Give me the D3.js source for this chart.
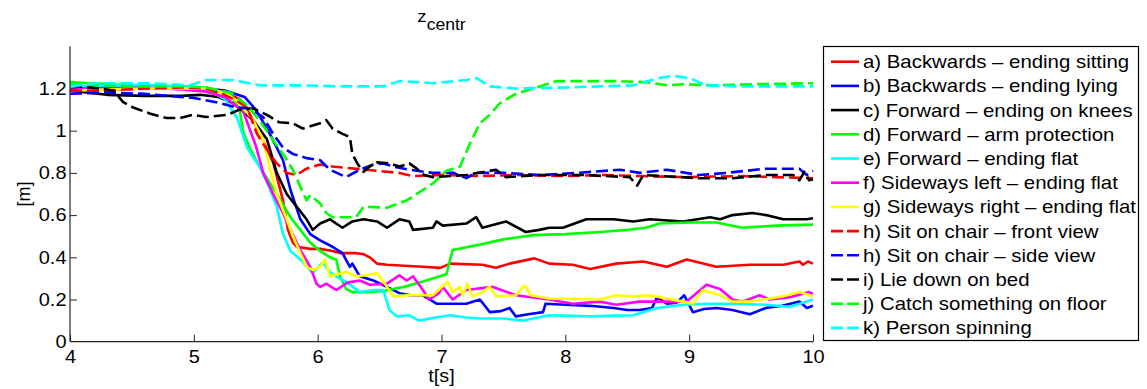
<!DOCTYPE html>
<html>
<head>
<meta charset="utf-8">
<script src="https://cdn.jsdelivr.net/npm/d3@7"></script>
<style>
  html, body { margin: 0; padding: 0; background: #fff; }
  svg { display: block; font-family: "Liberation Sans", Arial, Helvetica, sans-serif; }
</style>
</head>
<body>
<svg id="chart" width="1147" height="389"></svg>
<script>
// Vertical position of the body centroid z_centr [m] over time t [s], one trace per activity.
const aBackSit = [[4.0,1.19],[4.3,1.195],[4.6,1.2],[4.9,1.2],[5.1,1.195],[5.25,1.18],[5.37,1.15],[5.45,1.08],[5.53,0.99],[5.64,0.85],[5.72,0.67],[5.76,0.53],[5.8,0.47],[5.83,0.45],[5.94,0.44],[6.02,0.44],[6.12,0.43],[6.18,0.42],[6.3,0.42],[6.37,0.415],[6.42,0.40],[6.48,0.37],[6.56,0.365],[6.7,0.36],[6.85,0.355],[6.99,0.35],[7.07,0.37],[7.33,0.365],[7.44,0.35],[7.55,0.37],[7.75,0.395],[7.87,0.37],[8.06,0.365],[8.2,0.345],[8.41,0.37],[8.63,0.38],[8.82,0.355],[8.98,0.39],[9.22,0.355],[9.49,0.365],[9.76,0.365],[9.89,0.38],[9.92,0.365],[9.96,0.38],[10.0,0.37]];
const bBackLie = [[4.0,1.21],[4.3,1.205],[4.6,1.2],[4.9,1.2],[5.1,1.2],[5.25,1.19],[5.41,1.16],[5.5,1.1],[5.6,1.0],[5.67,0.92],[5.72,0.86],[5.78,0.72],[5.86,0.58],[5.94,0.51],[6.02,0.48],[6.12,0.45],[6.2,0.42],[6.26,0.355],[6.28,0.37],[6.34,0.31],[6.45,0.29],[6.56,0.26],[6.66,0.23],[6.75,0.22],[6.85,0.22],[6.96,0.18],[7.1,0.18],[7.2,0.18],[7.31,0.2],[7.39,0.14],[7.48,0.145],[7.55,0.16],[7.6,0.12],[7.7,0.13],[7.82,0.14],[7.84,0.18],[8.0,0.175],[8.2,0.17],[8.39,0.16],[8.5,0.15],[8.6,0.15],[8.7,0.16],[8.74,0.21],[8.82,0.18],[8.9,0.185],[8.96,0.22],[9.03,0.14],[9.12,0.155],[9.22,0.16],[9.35,0.15],[9.49,0.13],[9.62,0.16],[9.75,0.17],[9.89,0.19],[9.95,0.16],[10.0,0.17]];
const cFwdKnees = [[4.0,1.19],[4.3,1.17],[4.6,1.165],[4.9,1.165],[5.05,1.17],[5.2,1.16],[5.32,1.13],[5.48,1.05],[5.59,0.96],[5.67,0.8],[5.75,0.7],[5.83,0.64],[5.91,0.58],[5.96,0.53],[6.02,0.56],[6.1,0.58],[6.2,0.54],[6.28,0.57],[6.37,0.58],[6.48,0.57],[6.56,0.54],[6.66,0.58],[6.74,0.57],[6.77,0.53],[6.93,0.54],[6.96,0.57],[7.01,0.55],[7.2,0.56],[7.28,0.59],[7.33,0.54],[7.52,0.57],[7.68,0.52],[7.79,0.53],[7.87,0.54],[7.98,0.54],[8.17,0.58],[8.39,0.58],[8.55,0.57],[8.68,0.58],[8.95,0.57],[9.17,0.59],[9.25,0.58],[9.35,0.6],[9.51,0.61],[9.62,0.6],[9.76,0.58],[9.95,0.58],[10.0,0.585]];
const dFwdArm = [[4.0,1.23],[4.3,1.22],[4.6,1.215],[4.9,1.21],[5.1,1.205],[5.3,1.17],[5.37,1.1],[5.4,0.99],[5.45,0.92],[5.53,0.83],[5.67,0.70],[5.78,0.59],[5.86,0.53],[5.94,0.47],[6.02,0.43],[6.1,0.40],[6.15,0.39],[6.18,0.31],[6.23,0.25],[6.28,0.235],[6.4,0.235],[6.53,0.24],[6.7,0.26],[6.85,0.285],[7.04,0.32],[7.09,0.435],[7.31,0.46],[7.5,0.485],[7.74,0.505],[8.0,0.51],[8.28,0.52],[8.5,0.53],[8.65,0.54],[8.76,0.56],[9.0,0.565],[9.22,0.565],[9.43,0.54],[9.7,0.55],[10.0,0.555]];
const eFwdFlat = [[4.0,1.21],[4.3,1.215],[4.6,1.215],[4.9,1.21],[5.1,1.2],[5.25,1.15],[5.35,1.06],[5.43,0.92],[5.53,0.83],[5.61,0.73],[5.67,0.64],[5.72,0.51],[5.78,0.43],[5.86,0.39],[5.96,0.325],[6.04,0.375],[6.1,0.33],[6.15,0.31],[6.24,0.28],[6.34,0.235],[6.45,0.245],[6.53,0.245],[6.58,0.15],[6.64,0.12],[6.74,0.125],[6.82,0.10],[6.95,0.115],[7.07,0.125],[7.2,0.115],[7.33,0.11],[7.5,0.11],[7.66,0.10],[7.87,0.125],[8.2,0.12],[8.55,0.125],[8.74,0.16],[8.95,0.175],[9.15,0.18],[9.35,0.18],[9.62,0.175],[9.81,0.165],[10.0,0.2]];
const fSideLeft = [[4.0,1.2],[4.3,1.2],[4.6,1.205],[4.9,1.195],[5.1,1.185],[5.25,1.16],[5.4,1.09],[5.5,0.93],[5.56,0.80],[5.64,0.70],[5.72,0.61],[5.78,0.53],[5.86,0.435],[5.94,0.355],[5.99,0.275],[6.02,0.26],[6.07,0.275],[6.15,0.245],[6.24,0.28],[6.34,0.29],[6.42,0.27],[6.56,0.275],[6.66,0.315],[6.72,0.29],[6.77,0.31],[6.85,0.245],[6.9,0.2],[6.98,0.23],[7.01,0.26],[7.09,0.2],[7.2,0.245],[7.41,0.26],[7.6,0.22],[7.87,0.2],[8.06,0.18],[8.28,0.19],[8.41,0.175],[8.6,0.19],[8.98,0.19],[9.14,0.27],[9.25,0.25],[9.35,0.2],[9.43,0.19],[9.57,0.22],[9.65,0.2],[9.8,0.21],[9.97,0.235],[10.0,0.225]];
const gSideRight = [[4.0,1.19],[4.3,1.195],[4.6,1.2],[4.9,1.2],[5.1,1.2],[5.25,1.18],[5.35,1.14],[5.48,1.05],[5.56,0.955],[5.61,0.83],[5.67,0.70],[5.75,0.58],[5.8,0.5],[5.86,0.42],[5.91,0.355],[5.96,0.34],[6.02,0.355],[6.06,0.39],[6.1,0.31],[6.23,0.33],[6.31,0.31],[6.39,0.315],[6.48,0.325],[6.56,0.26],[6.61,0.215],[6.72,0.22],[6.93,0.22],[7.05,0.285],[7.09,0.235],[7.15,0.26],[7.17,0.22],[7.21,0.275],[7.25,0.215],[7.33,0.235],[7.39,0.26],[7.44,0.215],[7.6,0.22],[7.66,0.26],[7.68,0.265],[7.72,0.22],[7.87,0.205],[8.28,0.2],[8.41,0.22],[8.55,0.215],[8.68,0.22],[8.95,0.19],[9.03,0.18],[9.11,0.245],[9.25,0.22],[9.35,0.19],[9.49,0.19],[9.76,0.215],[9.89,0.235],[10.0,0.215]];
const hChairFront = [[4.0,1.19],[4.3,1.19],[4.6,1.2],[4.9,1.205],[5.1,1.2],[5.25,1.17],[5.35,1.14],[5.43,1.11],[5.51,0.985],[5.59,0.91],[5.67,0.845],[5.75,0.80],[5.83,0.79],[5.91,0.82],[6.02,0.84],[6.12,0.83],[6.39,0.815],[6.66,0.80],[6.77,0.785],[7.0,0.79],[7.3,0.785],[7.6,0.79],[8.0,0.785],[8.3,0.79],[8.6,0.785],[9.0,0.78],[9.4,0.785],[9.7,0.78],[10.0,0.775]];
const hChairSide = [[4.0,1.175],[4.3,1.18],[4.6,1.175],[5.0,1.155],[5.18,1.135],[5.35,1.11],[5.45,1.105],[5.56,1.065],[5.64,0.985],[5.72,0.92],[5.8,0.89],[5.91,0.87],[6.02,0.86],[6.1,0.815],[6.23,0.78],[6.34,0.815],[6.45,0.84],[6.53,0.845],[6.61,0.83],[6.74,0.815],[6.93,0.80],[7.1,0.8],[7.2,0.775],[7.28,0.80],[7.5,0.8],[7.8,0.79],[8.1,0.80],[8.44,0.815],[8.6,0.80],[8.82,0.815],[9.08,0.79],[9.3,0.80],[9.62,0.82],[9.89,0.82],[9.95,0.79],[10.0,0.81]];
const iLieBed = [[4.0,1.215],[4.24,1.2],[4.35,1.19],[4.43,1.135],[4.51,1.11],[4.65,1.08],[4.78,1.06],[4.89,1.06],[4.99,1.075],[5.1,1.065],[5.27,1.075],[5.37,1.1],[5.48,1.105],[5.59,1.075],[5.69,1.04],[5.8,1.035],[5.88,1.01],[6.02,1.035],[6.07,1.05],[6.12,1.01],[6.2,0.985],[6.26,0.97],[6.28,0.89],[6.32,0.845],[6.37,0.805],[6.42,0.83],[6.48,0.85],[6.58,0.845],[6.66,0.83],[6.74,0.845],[6.8,0.82],[6.86,0.79],[6.93,0.78],[7.2,0.79],[7.44,0.815],[7.52,0.78],[7.79,0.79],[8.14,0.79],[8.52,0.78],[8.58,0.74],[8.63,0.79],[9.08,0.775],[9.35,0.775],[9.62,0.79],[9.84,0.79],[9.89,0.765],[9.93,0.805],[9.97,0.765],[10.0,0.77]];
const jCatchFloor = [[4.0,1.22],[4.3,1.215],[4.6,1.21],[4.9,1.21],[5.1,1.205],[5.3,1.18],[5.43,1.12],[5.53,1.05],[5.64,0.955],[5.72,0.89],[5.8,0.815],[5.86,0.735],[5.91,0.67],[5.94,0.695],[6.02,0.655],[6.07,0.61],[6.12,0.59],[6.31,0.59],[6.37,0.64],[6.56,0.635],[6.72,0.67],[6.93,0.75],[7.04,0.81],[7.15,0.83],[7.23,0.94],[7.31,1.035],[7.39,1.075],[7.47,1.13],[7.6,1.175],[7.74,1.2],[7.93,1.235],[8.14,1.235],[8.41,1.235],[8.65,1.23],[8.82,1.215],[8.95,1.22],[9.22,1.215],[9.49,1.22],[10.0,1.225]];
const kSpinning = [[4.0,1.21],[4.2,1.225],[4.65,1.225],[4.97,1.215],[5.1,1.24],[5.32,1.24],[5.53,1.215],[5.86,1.215],[6.2,1.21],[6.53,1.21],[6.66,1.235],[6.82,1.23],[6.93,1.225],[7.2,1.24],[7.28,1.25],[7.39,1.21],[7.6,1.2],[8.01,1.205],[8.55,1.215],[8.76,1.25],[8.87,1.26],[9.0,1.25],[9.14,1.215],[9.35,1.21],[10.0,1.21]];

const seriesNames = [
  "a) Backwards \u2013 ending sitting",
  "b) Backwards \u2013 ending lying",
  "c) Forward \u2013 ending on knees",
  "d) Forward \u2013 arm protection",
  "e) Forward \u2013 ending flat",
  "f) Sideways left \u2013 ending flat",
  "g) Sideways right \u2013 ending flat",
  "h) Sit on chair \u2013 front view",
  "h) Sit on chair \u2013 side view",
  "i) Lie down on bed",
  "j) Catch something on floor",
  "k) Person spinning"
];
const seriesData = [aBackSit, bBackLie, cFwdKnees, dFwdArm, eFwdFlat, fSideLeft, gSideRight,
                    hChairFront, hChairSide, iLieBed, jCatchFloor, kSpinning];
const seriesColors = ["#ff0000","#0000ff","#000000","#00ff00","#00ffff","#ff00ff","#ffff00",
                      "#ff0000","#0000ff","#000000","#00ff00","#00ffff"];
const seriesDashed = [false,false,false,false,false,false,false,true,true,true,true,true];

const xTicks = [4, 5, 6, 7, 8, 9, 10];
const yTicks = [0, 0.2, 0.4, 0.6, 0.8, 1, 1.2];
const xDomain = [4, 10];
const yDomain = [0, 1.4];

const svg = d3.select("#chart");
const plot = { left: 70, right: 813, top: 46.3, bottom: 341.7 };

const x = d3.scaleLinear().domain(xDomain).range([plot.left, plot.right]);
const y = d3.scaleLinear().domain(yDomain).range([plot.bottom, plot.top]);

const axisColor = "#262626";
const fontSize = 18;
const dash = "12,5";

// Widen glyphs horizontally about each text's own anchor x
function widen(sel, s) {
  sel.each(function () {
    const t = d3.select(this);
    const ax = +(t.attr("x") || 0);
    const prev = t.attr("transform") || "";
    t.attr("transform", `${prev} translate(${ax * (1 - s)},0) scale(${s},1)`);
  });
}

// Traces
const line = d3.line().x(d => x(d[0])).y(d => y(d[1]));
const traces = svg.append("g");
seriesData.forEach((data, i) => {
  traces.append("path")
    .datum(data)
    .attr("d", line)
    .attr("fill", "none")
    .attr("stroke", seriesColors[i])
    .attr("stroke-width", 2.6)
    .attr("stroke-linejoin", "round")
    .attr("stroke-dasharray", seriesDashed[i] ? dash : null);
});

// Axes (ticks drawn inward)
const xAxis = d3.axisBottom(x).tickValues(xTicks).tickSize(-7).tickPadding(8.5).tickFormat(d3.format("d"));
const yAxis = d3.axisLeft(y).tickValues(yTicks).tickSize(-7).tickPadding(3.5).tickFormat(d => d === 0 ? "0" : (d === 1 ? "1" : d3.format(".1f")(d)));

const gx = svg.append("g").attr("transform", `translate(0,${plot.bottom})`).call(xAxis);
const gy = svg.append("g").attr("transform", `translate(${plot.left},0)`).call(yAxis);
[gx, gy].forEach(g => {
  g.select(".domain").attr("stroke", axisColor).attr("stroke-width", 1.2).attr("d",
    g === gx ? `M${plot.left},0H${plot.right}` : `M0,${plot.bottom}V${plot.top}`);
  g.selectAll(".tick line").attr("stroke", axisColor).attr("stroke-width", 1);
  g.selectAll(".tick text").attr("fill", "#000").style("font-size", fontSize + "px")
    .style("font-family", "'Liberation Sans', Arial, sans-serif");
  widen(g.selectAll(".tick text"), 1.11);
});
gy.selectAll(".tick").filter(d => d === 0).select("line").remove();

// Title with subscript
const title = svg.append("text")
  .attr("x", (plot.left + plot.right) / 2)
  .attr("y", 22)
  .attr("text-anchor", "middle")
  .style("font-size", "17px");
title.append("tspan").text("z");
title.append("tspan").attr("dy", 8).style("font-size", "16px").text("centr");
widen(title, 1.1);

// Axis labels
const xLabel = svg.append("text")
  .attr("x", (plot.left + plot.right) / 2)
  .attr("y", 382)
  .attr("text-anchor", "middle")
  .style("font-size", fontSize + "px")
  .text("t[s]");
widen(xLabel, 1.1);

svg.append("text")
  .attr("transform", `translate(30,${(plot.top + plot.bottom) / 2}) rotate(-90)`)
  .attr("text-anchor", "middle")
  .style("font-size", fontSize + "px")
  .text("[m]");

// Legend
const legend = svg.append("g");
legend.append("rect")
  .attr("x", 823.5).attr("y", 46.5)
  .attr("width", 315).attr("height", 294)
  .attr("fill", "#fff")
  .attr("stroke", "#000").attr("stroke-width", 1.2);

const rowY = i => 61.7 + i * 24.2;
seriesNames.forEach((name, i) => {
  legend.append("line")
    .attr("x1", 831).attr("x2", 859)
    .attr("y1", rowY(i)).attr("y2", rowY(i))
    .attr("stroke", seriesColors[i])
    .attr("stroke-width", 2.6)
    .attr("stroke-dasharray", seriesDashed[i] ? "12,4" : null);
  const label = legend.append("text")
    .attr("x", 863).attr("y", rowY(i))
    .attr("dy", "0.36em")
    .style("font-size", fontSize + "px")
    .text(name);
  widen(label, 1.133);
});
</script>
</body>
</html>
